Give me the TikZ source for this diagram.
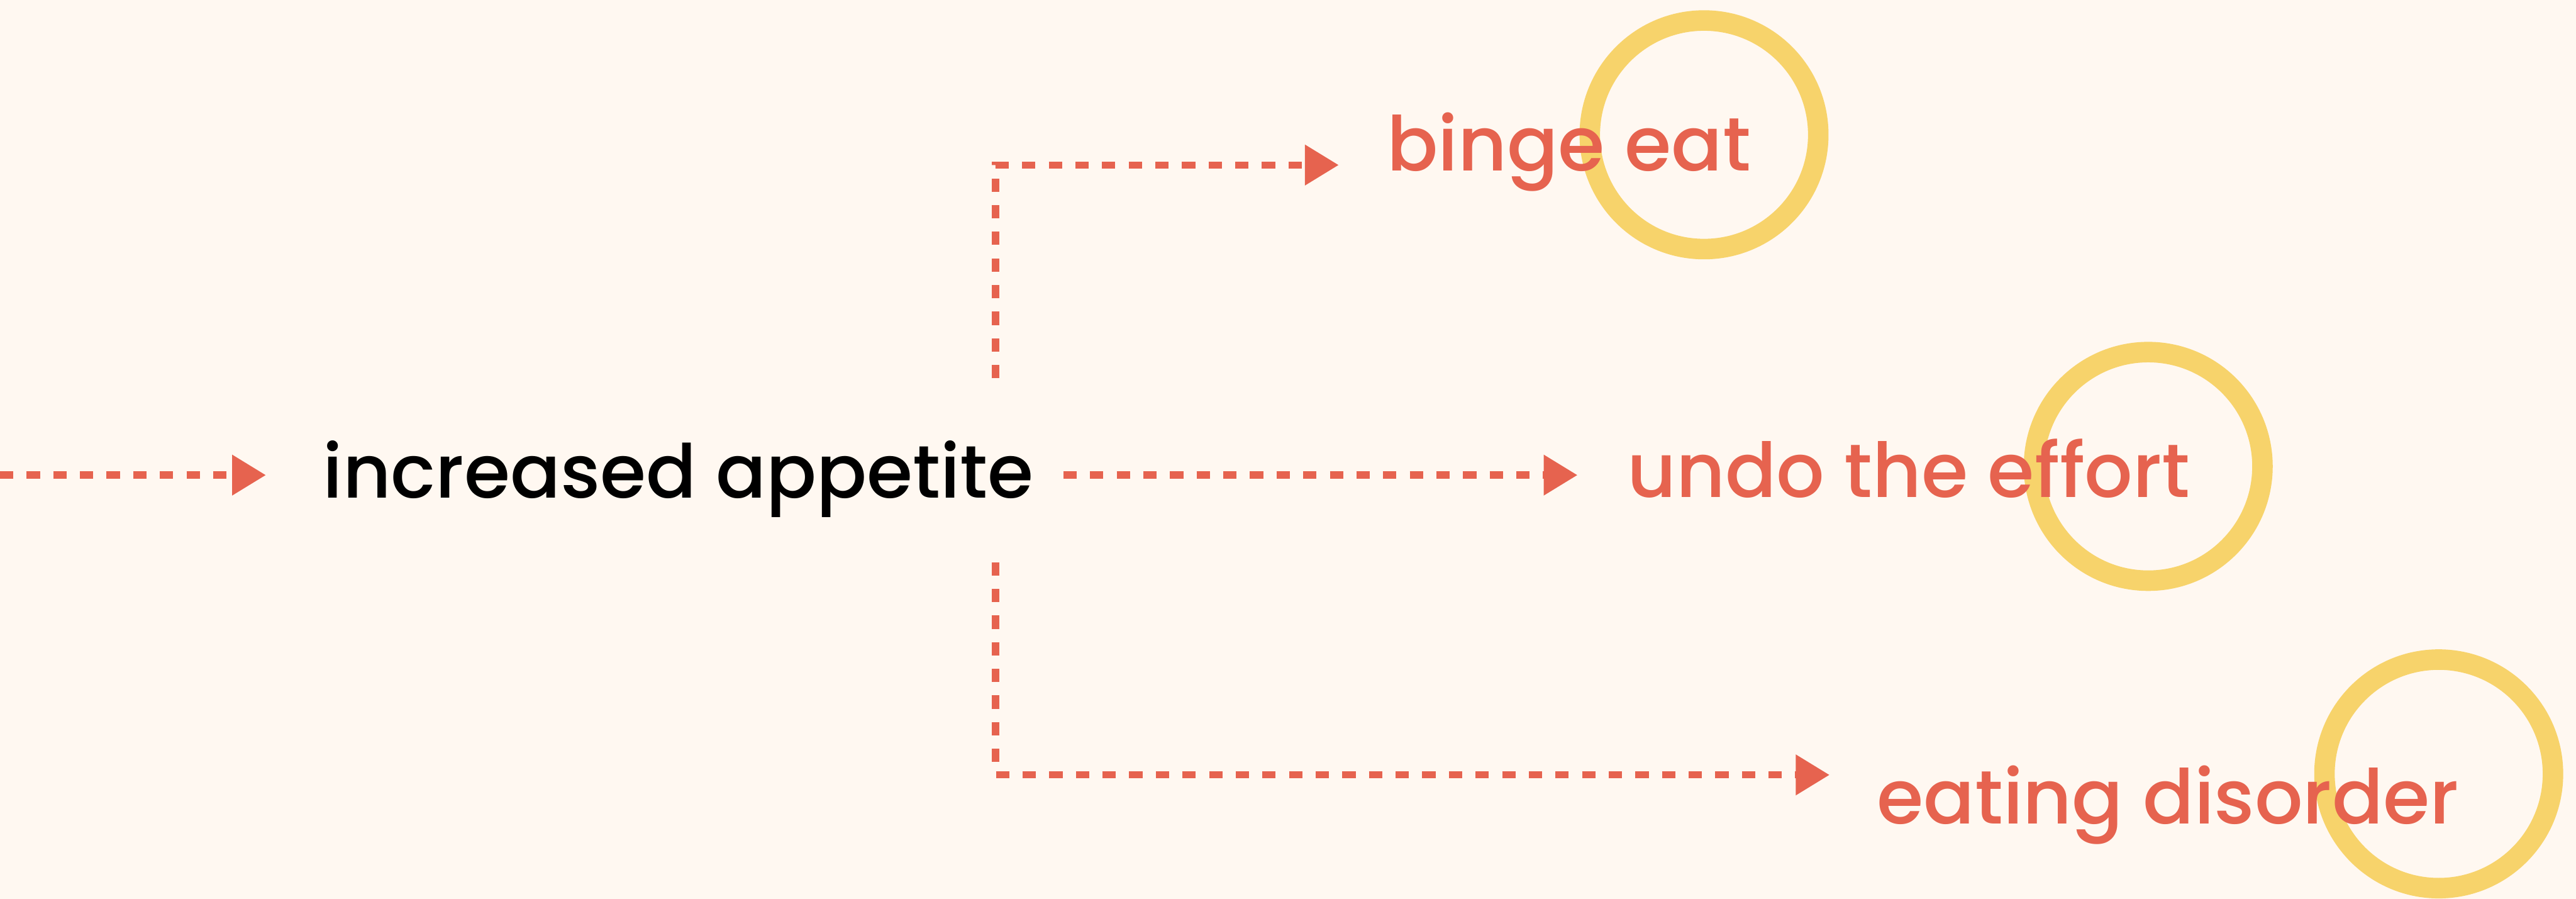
\documentclass[tikz,border=0pt]{standalone}
\usepackage{fontspec}
\setmainfont{Poppins}[UprightFont=* Medium]
\usetikzlibrary{positioning, arrows.meta}
\definecolor{cream}{HTML}{FFF8F1}
\definecolor{coral}{HTML}{E6634F}
\definecolor{mustard}{HTML}{F7D36B}

\begin{document}
\begin{tikzpicture}[
    flow/.style={
      draw=coral,
      line width=0.14cm,
      dash pattern=on 0.26cm off 0.26cm,
      -{Triangle[length=0.66cm, width=0.76cm]},
    },
    ring/.style={
      circle,
      draw=mustard,
      line width=0.4cm,
      minimum size=4.46cm,
      inner sep=0pt,
    },
    cause/.style={
      font=\fontsize{41.3}{48}\selectfont,
      text=black,
      inner sep=0pt,
      anchor=base west,
    },
    effect/.style={
      font=\fontsize{42}{48}\selectfont,
      text=coral,
      inner sep=0pt,
      anchor=base west,
    },
  ]

  % --- Background ---
  \fill[cream] (0,0) rectangle (50.28,-17.54);
  \useasboundingbox (0,0) rectangle (50.28,-17.54);

  % --- Highlight rings (behind the words) ---
  \node[ring] (ringBinge) at (33.26,-2.63) {};
  \node[ring] (ringUndo) at (41.93,-9.10) {};
  \node[ring] (ringDisorder) at (47.60,-15.10) {};

  % --- Words ---
  \node[cause] (appetite) at (6.30,-9.71) {increased appetite};
  \node[effect] (binge) at (27.06,-3.33) {binge eat};
  \node[effect] (undo) at (31.75,-9.70) {undo the effort};
  \node[effect] (disorder) at (36.63,-16.08) {eating disorder};

  % --- Arrow ends and fork ---
  \coordinate (start) at (0,-9.27);
  \coordinate (forkTop) at (19.43,-7.38);
  \coordinate (forkBottom) at (19.43,-10.97);
  \coordinate (tipBinge) at ([xshift=-0.93cm, yshift=0.11cm]binge.base west);
  \coordinate (tipUndo) at ([xshift=-0.96cm, yshift=0.43cm]undo.base west);
  \coordinate (tipDisorder) at ([xshift=-0.92cm, yshift=0.96cm]disorder.base west);

  % --- Incoming arrow ---
  \draw[flow] (start) -- ([xshift=-1.11cm]appetite.west |- start);

  % --- Three outcomes ---
  \draw[flow] ([xshift=0.57cm]appetite.east |- start) -- (tipUndo);
  \draw[flow] (forkTop) |- (tipBinge);
  \draw[flow] (forkBottom) |- (tipDisorder);

\end{tikzpicture}
\end{document}
